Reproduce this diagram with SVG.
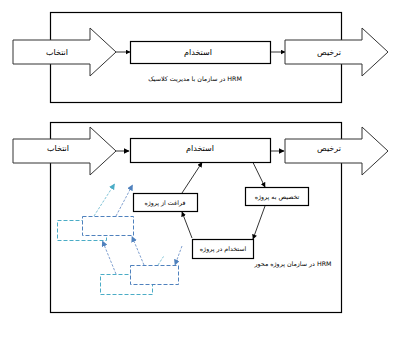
<svg xmlns="http://www.w3.org/2000/svg" width="398" height="337" viewBox="0 0 398 337">
<style>
.frame{fill:none;stroke:#000;stroke-width:1.2}
.big{fill:#fff;stroke:#333;stroke-width:1}
.box{fill:#fff;stroke:#000;stroke-width:1.2}
.t{font-family:"DejaVu Sans",sans-serif;fill:#000;text-anchor:middle;direction:rtl}
.tl{font-size:8px}
.ts{font-size:6.3px}
.conn{stroke:#000;stroke-width:0.8;fill:none}
.gconn{stroke:#999;stroke-width:2;fill:none}
.dc{fill:#fff;stroke:#4bacc6;stroke-width:1;stroke-dasharray:4,2}
.db{fill:#fff;stroke:#4f81bd;stroke-width:1;stroke-dasharray:4,2}
.lc{stroke:#7fc3d6;stroke-width:1;stroke-dasharray:2.5,1.5;fill:none}
.lb{stroke:#7f9fcf;stroke-width:1;stroke-dasharray:2.5,1.5;fill:none}
</style>
<defs>
<marker id="ah" viewBox="0 0 10 10" refX="9" refY="5" markerWidth="5" markerHeight="5" markerUnits="userSpaceOnUse" orient="auto"><path d="M0,0L10,5L0,10z" fill="#000"/></marker>
<marker id="ahg" viewBox="0 0 10 10" refX="9" refY="5" markerWidth="3" markerHeight="3" orient="auto"><path d="M0,0L10,5L0,10z" fill="#000"/></marker>
<marker id="ahc" viewBox="0 0 10 10" refX="9" refY="5" markerWidth="6" markerHeight="6" markerUnits="userSpaceOnUse" orient="auto"><path d="M0,0L10,5L0,10z" fill="#4bacc6"/></marker>
<marker id="ahb" viewBox="0 0 10 10" refX="9" refY="5" markerWidth="6" markerHeight="6" markerUnits="userSpaceOnUse" orient="auto"><path d="M0,0L10,5L0,10z" fill="#4f81bd"/></marker>
</defs>
<rect width="398" height="337" fill="#fff"/>

<g id="frame-classic">
<rect class="frame" x="50.5" y="12.5" width="291" height="90"/>
<text class="t ts" x="195" y="81">HRM در سازمان با مدیریت کلاسیک</text>
</g>
<g id="frame-project">
<rect class="frame" x="50.5" y="122.5" width="291" height="190"/>
<text class="t ts" x="293" y="266">HRM در سازمان پروژه محور</text>
</g>

<g id="connectors">
<line class="conn" x1="116" y1="52" x2="130" y2="52" marker-end="url(#ah)"/>
<line class="conn" x1="270" y1="52" x2="285" y2="52" marker-end="url(#ah)"/>
<line class="gconn" x1="116" y1="151" x2="129" y2="151" marker-end="url(#ahg)"/>
<line class="gconn" x1="270" y1="151" x2="284" y2="151" marker-end="url(#ahg)"/>
<line class="conn" x1="253" y1="162.5" x2="265" y2="187" marker-end="url(#ah)"/>
<line class="conn" x1="265" y1="206" x2="253" y2="239" marker-end="url(#ah)"/>
<line class="conn" x1="192" y1="238" x2="182" y2="212" marker-end="url(#ah)"/>
<line class="conn" x1="182" y1="193" x2="202" y2="162.5" marker-end="url(#ah)"/>
</g>

<g id="a-select-1"><polygon class="big" points="13,40 90,40 90,28 116,52 90,76 90,64 13,64"/><text class="t tl" x="57" y="55">انتخاب</text></g>
<g id="a-hire-1"><rect class="box" x="130.5" y="41.5" width="140" height="22"/><text class="t tl" x="198" y="55">استخدام</text></g>
<g id="a-release-1"><polygon class="big" points="285,40 362,40 362,28 388,52 362,76 362,64 285,64"/><text class="t tl" x="329" y="55">ترخیص</text></g>

<g id="b-select-2"><polygon class="big" points="13,139 90,139 90,127 116,151 90,175 90,163 13,163"/><text class="t tl" x="58" y="151">انتخاب</text></g>
<g id="b-hire-2"><rect class="box" x="130.5" y="138.5" width="140" height="24"/><text class="t tl" x="200" y="151">استخدام</text></g>
<g id="b-release-2"><polygon class="big" points="285,139 362,139 362,127 388,151 362,175 362,163 285,163"/><text class="t tl" x="329" y="151">ترخیص</text></g>

<g id="n-assign"><rect class="box" x="245.5" y="187.5" width="63" height="18"/><text class="t ts" x="277" y="199">تخصیص به پروژه</text></g>
<g id="n-free"><rect class="box" x="133.5" y="193.5" width="64" height="18"/><text class="t ts" x="165" y="205">فراغت از پروژه</text></g>
<g id="n-employ"><rect class="box" x="192.5" y="239.5" width="61" height="19"/><text class="t ts" x="223" y="251">استخدام در پروژه</text></g>

<g id="dashed-boxes">
<rect class="dc" x="57.5" y="220.5" width="49" height="20"/>
<rect class="db" x="82.5" y="216.5" width="51" height="19"/>
<rect class="dc" x="100.5" y="274.5" width="52" height="20"/>
<rect class="db" x="130.5" y="265.5" width="48" height="19"/>
</g>
<g id="dashed-connectors">
<line class="lc" x1="94" y1="216" x2="114.5" y2="184" marker-end="url(#ahc)"/>
<line class="lb" x1="116" y1="216" x2="132.5" y2="185" marker-end="url(#ahb)"/>
<line class="lb" x1="116" y1="274" x2="102.5" y2="241" marker-end="url(#ahb)"/>
<line class="lb" x1="144" y1="265" x2="132" y2="236.5" marker-end="url(#ahb)"/>
<line class="lc" x1="158" y1="265" x2="163.5" y2="256.5"/>
<line class="lb" x1="182" y1="246" x2="175" y2="265" marker-end="url(#ahb)"/>
</g>
</svg>
